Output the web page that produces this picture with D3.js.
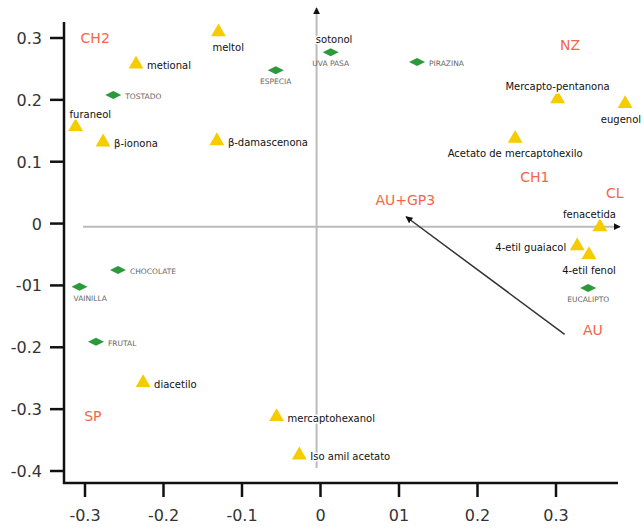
<!DOCTYPE html>
<html>
<head>
<meta charset="utf-8">
<script src="https://cdn.jsdelivr.net/npm/d3@7"></script>
<style>
  body { margin: 0; background: #fff; }
  svg { display: block; font-family: "DejaVu Sans", sans-serif; }
</style>
</head>
<body>
<div id="chart"></div>
<script>
// compounds (yellow triangles)
const compNames = ["meltol", "metional", "furaneol", "β-ionona", "β-damascenona", "Mercapto-pentanona",
	"eugenol", "Acetato de mercaptohexilo", "fenacetida", "4-etil guaiacol", "4-etil fenol",
	"diacetilo", "mercaptohexanol", "Iso amil acetato"];
const compX = [-0.13, -0.235, -0.312, -0.277, -0.132, 0.302, 0.388, 0.248, 0.356, 0.327, 0.342, -0.226, -0.056, -0.027];
const compY = [0.308, 0.256, 0.155, 0.130, 0.132, 0.200, 0.192, 0.136, -0.007, -0.038, -0.052, -0.259, -0.314, -0.376];
// label placement: r right, l left, a above, b below; s / e = start / end aligned
const compPos = ["bs", "r", "as", "r", "r", "a", "be", "b", "ae", "l", "b", "r", "r", "r"];

// descriptors (green diamonds)
const descNames = ["UVA PASA", "ESPECIA", "PIRAZINA", "TOSTADO", "EUCALIPTO", "CHOCOLATE", "VAINILLA", "FRUTAL"];
const descX = [0.013, -0.057, 0.123, -0.264, 0.341, -0.258, -0.307, -0.286];
const descY = [0.277, 0.248, 0.261, 0.208, -0.104, -0.075, -0.102, -0.191];
const descPos = ["b", "b", "r", "r", "b", "r", "bs", "r"];

// wine groups (red text)
const groupNames = ["CH2", "NZ", "CH1", "CL", "AU+GP3", "AU", "SP"];
const groupX = [-0.287, 0.318, 0.273, 0.375, 0.108, 0.347, -0.290];
const groupY = [0.300, 0.289, 0.075, 0.049, 0.038, -0.172, -0.311];

// label without marker, and the AU -> AU+GP3 vector
const freeLabel = { name: "sotonol", x: -0.02, y: 0.298 };
const vecFrom = [0.311, -0.179];
const vecTo = [0.109, 0.011];

const xTicks = [-0.3, -0.2, -0.1, 0, 0.1, 0.2, 0.3];
const xTickLabels = ["-0.3", "-0.2", "-0.1", "0", "01", "0.2", "0.3"];
const yTicks = [0.3, 0.2, 0.1, 0, -0.1, -0.2, -0.3, -0.4];
const yTickLabels = ["0.3", "0.2", "0.1", "0", "-01", "-0.2", "-0.3", "-0.4"];

const W = 644, H = 529;
const svg = d3.select("#chart").append("svg").attr("width", W).attr("height", H);

const x = d3.scaleLinear().domain([-0.3, 0.3]).range([85, 556]);
const y = d3.scaleLinear().domain([0.3, -0.4]).range([38, 471]);

const defs = svg.append("defs");
defs.append("marker")
	.attr("id", "head")
	.attr("viewBox", "0 0 10 10")
	.attr("refX", 9).attr("refY", 5)
	.attr("markerWidth", 7).attr("markerHeight", 7)
	.attr("markerUnits", "userSpaceOnUse")
	.attr("orient", "auto")
	.append("path").attr("d", "M0,0 L10,5 L0,10 z").attr("fill", "#111");

// inner cross (grey, with arrows)
svg.append("line")
	.attr("x1", 83).attr("x2", 620)
	.attr("y1", y(-0.005)).attr("y2", y(-0.005))
	.attr("stroke", "#bbb").attr("stroke-width", 2)
	.attr("marker-end", "url(#head)");
svg.append("line")
	.attr("x1", x(-0.005)).attr("x2", x(-0.005))
	.attr("y1", 468).attr("y2", 8)
	.attr("stroke", "#bbb").attr("stroke-width", 2)
	.attr("marker-end", "url(#head)");

// main axes
const axisG = svg.append("g");
axisG.append("line").attr("x1", 64).attr("x2", 64).attr("y1", 22).attr("y2", 484)
	.attr("stroke", "#111").attr("stroke-width", 2.5);
axisG.append("line").attr("x1", 63).attr("x2", 618).attr("y1", 483).attr("y2", 483)
	.attr("stroke", "#111").attr("stroke-width", 2.5);

axisG.selectAll(".yt").data(yTicks).enter().append("line")
	.attr("x1", 50).attr("x2", 64)
	.attr("y1", (d) => y(d)).attr("y2", (d) => y(d))
	.attr("stroke", "#111").attr("stroke-width", 2.5);
axisG.selectAll(".ytl").data(yTicks).enter().append("text")
	.attr("x", 42).attr("y", (d) => y(d) + 6)
	.attr("text-anchor", "end")
	.attr("font-size", 16).attr("fill", "#333")
	.text((d, i) => yTickLabels[i]);

axisG.selectAll(".xt").data(xTicks).enter().append("line")
	.attr("x1", (d) => x(d)).attr("x2", (d) => x(d))
	.attr("y1", 483).attr("y2", 497)
	.attr("stroke", "#111").attr("stroke-width", 2.5);
axisG.selectAll(".xtl").data(xTicks).enter().append("text")
	.attr("x", (d) => x(d)).attr("y", 521)
	.attr("text-anchor", "middle")
	.attr("font-size", 16).attr("fill", "#333")
	.text((d, i) => xTickLabels[i]);

// AU -> AU+GP3 vector
svg.append("line")
	.attr("x1", x(vecFrom[0])).attr("y1", y(vecFrom[1]))
	.attr("x2", x(vecTo[0])).attr("y2", y(vecTo[1]))
	.attr("stroke", "#333").attr("stroke-width", 1.5)
	.attr("marker-end", "url(#head)");

const comps = compNames.map((n, i) => ({ name: n, x: compX[i], y: compY[i], pos: compPos[i] }));
const descs = descNames.map((n, i) => ({ name: n, x: descX[i], y: descY[i], pos: descPos[i] }));

const tri = d3.symbol().type(d3.symbolTriangle).size(95);
svg.selectAll(".tri").data(comps).enter().append("path")
	.attr("d", tri)
	.attr("transform", (d) => `translate(${x(d.x)},${y(d.y) - 1})`)
	.attr("fill", "#f5cc00");

const dia = () => "M-8,0 L0,-4 L8,0 L0,4 z";
svg.selectAll(".dia").data(descs).enter().append("path")
	.attr("d", dia)
	.attr("transform", (d) => `translate(${x(d.x)},${y(d.y)})`)
	.attr("fill", "#2a9a3a");

function labelXY(d, offR, offV) {
	const px = x(d.x), py = y(d.y);
	const side = d.pos[0], align = d.pos[1];
	if (side === "r") return [px + offR, py + 4, "start"];
	if (side === "l") return [px - offR, py + 4, "end"];
	const ly = side === "a" ? py - offV : py + offV + 8;
	if (align === "s") return [px - 6, ly, "start"];
	if (align === "e") return [px + 16, ly, "end"];
	return [px, ly, "middle"];
}

svg.selectAll(".cl").data(comps.concat([{ name: freeLabel.name, x: freeLabel.x, y: freeLabel.y, pos: "r" }]))
	.enter().append("text")
	.each(function (d) {
		const [lx, ly, anchor] = labelXY(d, 11, 10);
		d3.select(this).attr("x", lx).attr("y", ly).attr("text-anchor", anchor);
	})
	.attr("font-size", 10).attr("fill", "#111")
	.attr("stroke", "#fff").attr("stroke-width", 3).attr("paint-order", "stroke")
	.text((d) => d.name);

svg.selectAll(".dl").data(descs).enter().append("text")
	.each(function (d) {
		const [lx, ly, anchor] = labelXY(d, 12, 6);
		d3.select(this).attr("x", lx).attr("y", ly).attr("text-anchor", anchor);
	})
	.attr("font-size", 7.5).attr("fill", "#666")
	.text((d) => d.name);

svg.selectAll(".gl").data(groupNames).enter().append("text")
	.attr("x", (d, i) => x(groupX[i]))
	.attr("y", (d, i) => y(groupY[i]) + 5)
	.attr("text-anchor", "middle")
	.attr("font-size", 14).attr("fill", "#f2664a")
	.text((d) => d);
</script>
</body>
</html>
